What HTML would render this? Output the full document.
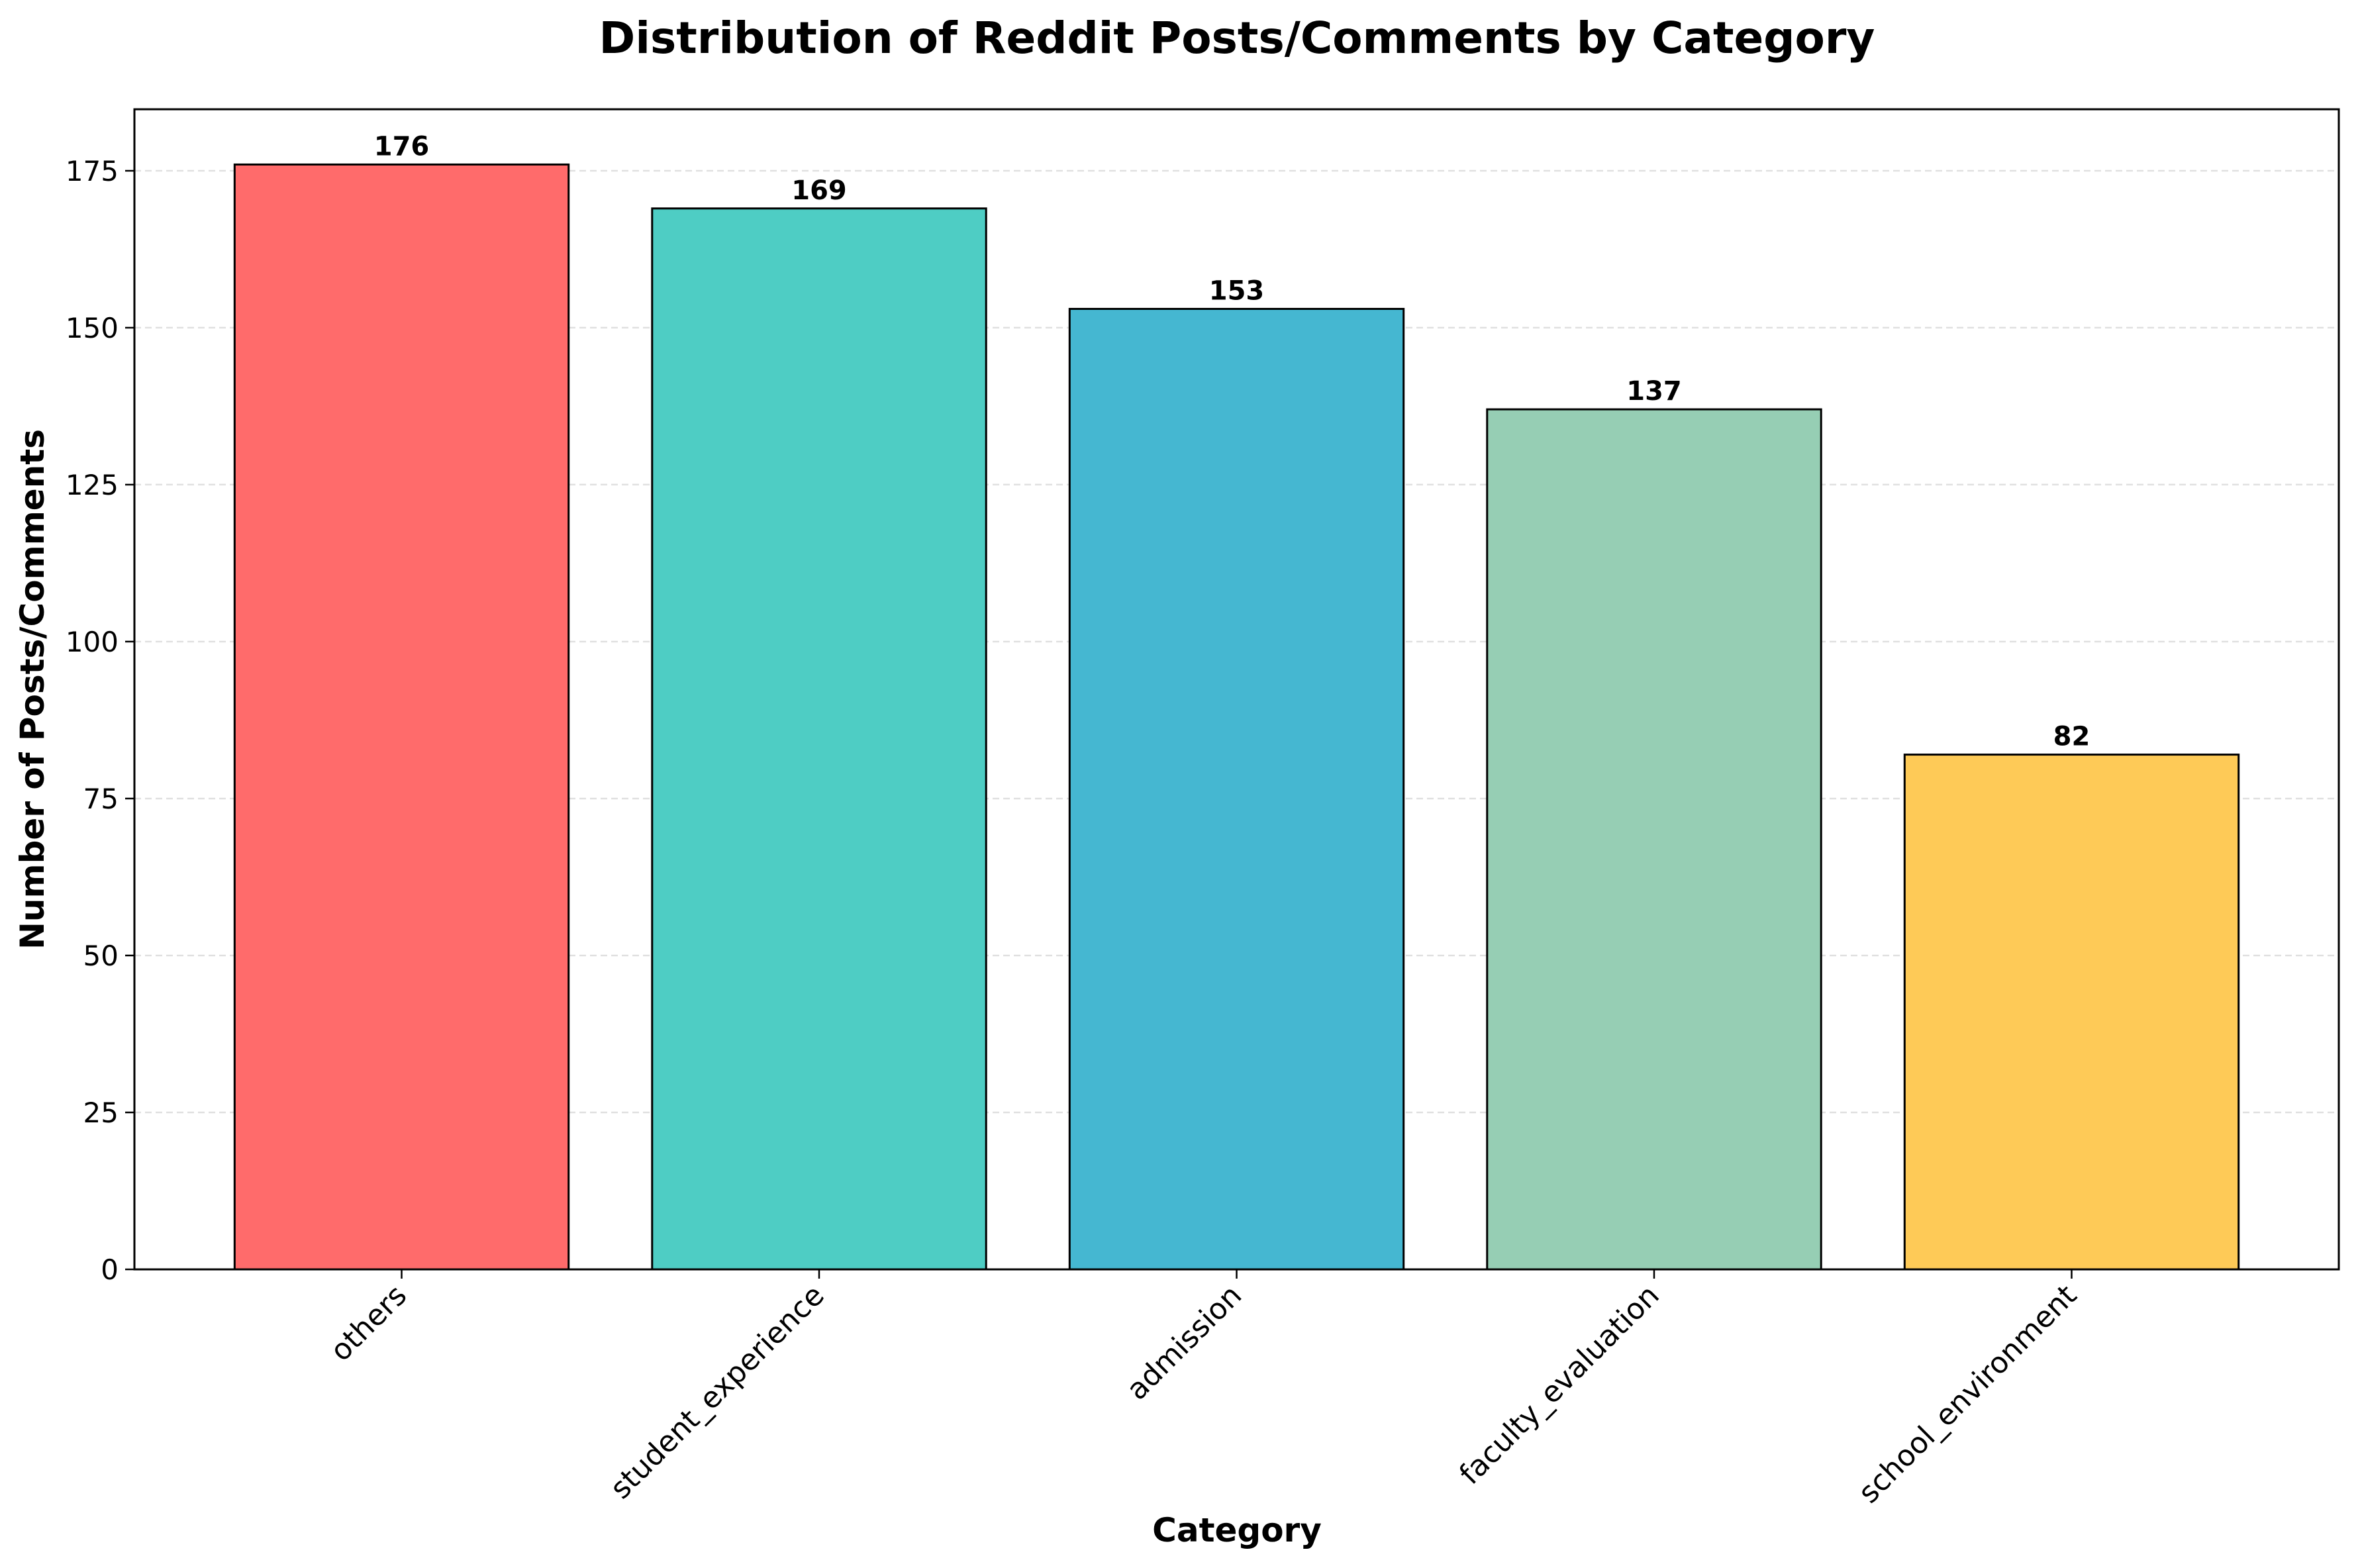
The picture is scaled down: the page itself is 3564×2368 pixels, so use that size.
<!DOCTYPE html>
<html><head><meta charset="utf-8"><style>
html,body{margin:0;padding:0;background:#fff}
svg{display:block;font-family:"DejaVu Sans","Liberation Sans",sans-serif}
</style></head><body>
<svg id="chart" width="3564" height="2368" viewBox="0 0 3564 2368" xmlns="http://www.w3.org/2000/svg">
<rect width="3564" height="2368" fill="#fff"/>
<text x="1868" y="80" font-size="66" font-weight="bold" text-anchor="middle">Distribution of Reddit Posts/Comments by Category</text>
<g id="grid"></g><g id="bars"></g><g id="yaxis"></g><g id="xaxis"></g>
<rect x="203" y="165" width="3329" height="1752" fill="none" stroke="#000" stroke-width="3"/>
<text x="1868" y="2328" font-size="50" font-weight="bold" text-anchor="middle">Category</text>
<text transform="translate(66,1041) rotate(-90)" font-size="50" font-weight="bold" text-anchor="middle">Number of Posts/Comments</text>
</svg>
<script>
const categories = ["others","student_experience","admission","faculty_evaluation","school_environment"];
const values = [176,169,153,137,82];
const colors = ["#FF6B6B","#4ECDC4","#45B7D1","#96CEB4","#FECA57"];
const yTicks = [0,25,50,75,100,125,150,175];

const L=203,R=3532,T=165,B=1917;
const xMin=-0.64,xMax=4.64,yMax=184.8;
const NS="http://www.w3.org/2000/svg";
function xs(i){return L+(i-xMin)/(xMax-xMin)*(R-L);}
function ys(v){return B-v/yMax*(B-T);}
function mk(tag,attrs,parent,txt){const e=document.createElementNS(NS,tag);for(const k in attrs)e.setAttribute(k,attrs[k]);if(txt!=null)e.textContent=txt;parent.appendChild(e);return e;}
const grid=document.getElementById('grid'),bars=document.getElementById('bars'),ya=document.getElementById('yaxis'),xa=document.getElementById('xaxis');
yTicks.forEach(t=>{
  const y=ys(t);
  const g=mk('line',{x1:L,x2:R,y1:y,y2:y,stroke:'#000','stroke-opacity':0.12,'stroke-width':2.5,'stroke-dasharray':'10,6'},grid);
  
  
  const tk=mk('line',{x1:L-14,x2:L,y1:y,y2:y,stroke:'#000','stroke-width':2.5},ya);
  
  
  const lb=mk('text',{x:L-24,y:y+15,'font-size':42,'text-anchor':'end'},ya,String(t));
  
  
});
const bw=0.8*(xs(1)-xs(0));
categories.forEach((c,i)=>{
  const cx=xs(i),v=values[i];
  const r=mk('rect',{x:cx-bw/2,y:ys(v),width:bw,height:B-ys(v),fill:colors[i],stroke:'#000','stroke-width':3},bars);
  
  
  const vl=mk('text',{x:cx,y:ys(v)-14,'font-size':40,'font-weight':'bold','text-anchor':'middle'},bars,String(v));
  
  
  const tk=mk('line',{x1:cx,x2:cx,y1:B,y2:B+14,stroke:'#000','stroke-width':2.5},xa);
  
  
  const lb=mk('text',{transform:`translate(${cx+10},${B+42}) rotate(-45)`,'font-size':44,'text-anchor':'end'},xa,c);
  
  
});
</script>
</body></html>
